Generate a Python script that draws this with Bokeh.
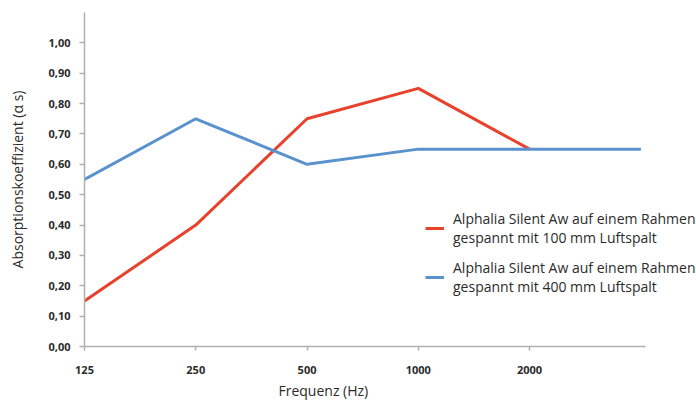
from bokeh.plotting import figure
from bokeh.models import Range1d, FixedTicker, Legend, LegendItem, Title
from bokeh.embed import file_html
from bokeh.resources import INLINE

# Data
frequencies = ["125", "250", "500", "1000", "2000", "4000"]
tick_labels = ["125", "250", "500", "1000", "2000"]
red_values = [0.15, 0.40, 0.75, 0.85, 0.65]
blue_values = [0.55, 0.75, 0.60, 0.65, 0.65, 0.65]
red_label = "Alphalia Silent Aw auf einem Rahmen\ngespannt mit 100 mm Luftspalt"
blue_label = "Alphalia Silent Aw auf einem Rahmen\ngespannt mit 400 mm Luftspalt"
y_ticks = [0.0, 0.1, 0.2, 0.3, 0.4, 0.5, 0.6, 0.7, 0.8, 0.9, 1.0]

FONT = "Open Sans"
AXIS_GREY = "#b0b0b0"
TEXT = "#2b2b2b"

p = figure(width=696, height=401, output_backend="svg", toolbar_location=None,
           x_range=Range1d(0, 5.50), y_range=Range1d(0, 1.10),
           min_border_left=84, min_border_right=0, min_border_top=12, min_border_bottom=51)
p.outline_line_color = None
p.grid.visible = False
p.background_fill_color = "white"

xs_red = list(range(len(red_values)))
xs_blue = list(range(len(blue_values)))
r_red = p.line(xs_red, red_values, line_color="#e8412c", line_width=3)
r_blue = p.line(xs_blue, blue_values, line_color="#5a92cd", line_width=3)

# X axis
p.xaxis.ticker = FixedTicker(ticks=list(range(len(tick_labels))))
p.xaxis.major_label_overrides = {i: t for i, t in enumerate(tick_labels)}
p.xaxis.bounds = (0, 5.04)
p.xaxis.minor_tick_line_color = None
p.xaxis.major_tick_in = 0
p.xaxis.major_tick_out = 4
p.xaxis.major_label_standoff = 15

# Y axis
p.yaxis.ticker = FixedTicker(ticks=y_ticks)
p.yaxis.major_label_overrides = {t: f"{t:.2f}".replace(".", ",") for t in y_ticks}
p.yaxis.minor_tick_line_color = None
p.yaxis.major_tick_in = 0
p.yaxis.major_tick_out = 5
p.yaxis.major_label_standoff = 9
p.yaxis.axis_label = "Absorptionskoeffizient (α s)"
p.yaxis.axis_label_standoff = 18

for ax in (p.xaxis, p.yaxis):
    ax.axis_line_color = AXIS_GREY
    ax.axis_line_width = 1.5
    ax.major_tick_line_color = AXIS_GREY
    ax.major_tick_line_width = 1.5
    ax.major_label_text_font = FONT
    ax.major_label_text_font_style = "bold"
    ax.major_label_text_font_size = "11px"
    ax.major_label_text_color = TEXT
    ax.axis_label_text_font = FONT
    ax.axis_label_text_font_style = "normal"
    ax.axis_label_text_font_size = "14px"
    ax.axis_label_text_color = TEXT

# X axis title (offset left as in the reference)
p.add_layout(Title(text="Frequenz (Hz)", align="left", offset=194, text_font=FONT,
                   text_font_size="14px", text_font_style="normal", text_color=TEXT,
                   standoff=4), "below")

legend = Legend(items=[LegendItem(label=red_label, renderers=[r_red]),
                       LegendItem(label=blue_label, renderers=[r_blue])],
                location=(341, 50), orientation="vertical",
                label_text_font=FONT, label_text_font_size="14px", label_text_color=TEXT,
                glyph_width=19, label_standoff=9, spacing=11,
                border_line_color=None, background_fill_alpha=0, padding=0, margin=0)
p.add_layout(legend, "center")

open("out.html", "w").write(file_html(p, INLINE))
